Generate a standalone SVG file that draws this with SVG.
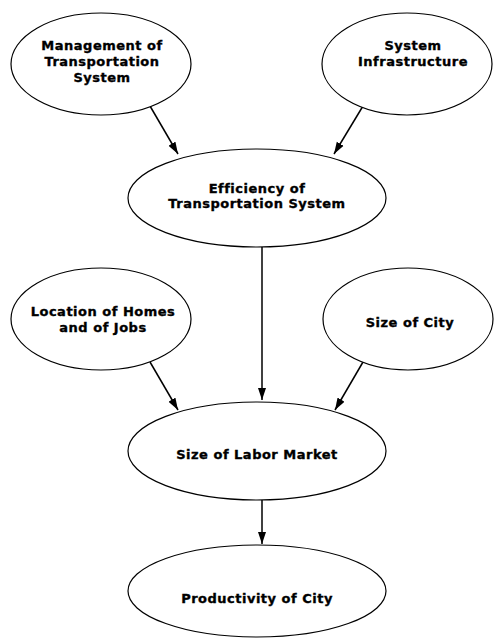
<svg xmlns="http://www.w3.org/2000/svg" width="496" height="641" viewBox="0 0 496 641">
<defs>
<marker id="arr" viewBox="0 0 12 10" refX="12" refY="5" markerWidth="12" markerHeight="10" markerUnits="userSpaceOnUse" orient="auto">
<path d="M0,1 L12,5 L0,9 Z" fill="#000"/>
</marker>
</defs>
<style>
ellipse{fill:#fff;stroke:#000;stroke-width:1.2}
text{font-family:"DejaVu Sans","Liberation Sans",sans-serif;font-weight:bold;font-size:13px;letter-spacing:0.5px;text-anchor:middle;fill:#000;stroke:#000;stroke-width:0.35}
.c line{stroke:#000;stroke-width:1.5;marker-end:url(#arr)}
</style>
<rect width="496" height="641" fill="#fff"/>
<g class="c" id="connectors">
<line x1="150" y1="106" x2="178" y2="154"/>
<line x1="363" y1="106" x2="334" y2="154"/>
<line x1="262" y1="247" x2="262" y2="400"/>
<line x1="150" y1="362" x2="178" y2="410"/>
<line x1="363" y1="362" x2="335" y2="410"/>
<line x1="262" y1="500" x2="262" y2="544"/>
</g>
<g id="n1"><ellipse cx="101" cy="64" rx="90" ry="51"/><text x="102" y="50">Management of</text><text x="102" y="66">Transportation</text><text x="102" y="82">System</text></g>
<g id="n2"><ellipse cx="407" cy="64" rx="85" ry="51"/><text x="413" y="50">System</text><text x="413" y="66">Infrastructure</text></g>
<g id="n3"><ellipse cx="257" cy="198" rx="129" ry="49"/><text x="257" y="193">Efficiency of</text><text x="257" y="208">Transportation System</text></g>
<g id="n4"><ellipse cx="101" cy="319" rx="90" ry="51"/><text x="103" y="316">Location of Homes</text><text x="103" y="332">and of Jobs</text></g>
<g id="n5"><ellipse cx="408" cy="319" rx="85" ry="51"/><text x="410" y="327">Size of City</text></g>
<g id="n6"><ellipse cx="257" cy="451" rx="129" ry="49"/><text x="257" y="459">Size of Labor Market</text></g>
<g id="n7"><ellipse cx="257" cy="591" rx="129" ry="46"/><text x="257" y="603">Productivity of City</text></g>
</svg>
